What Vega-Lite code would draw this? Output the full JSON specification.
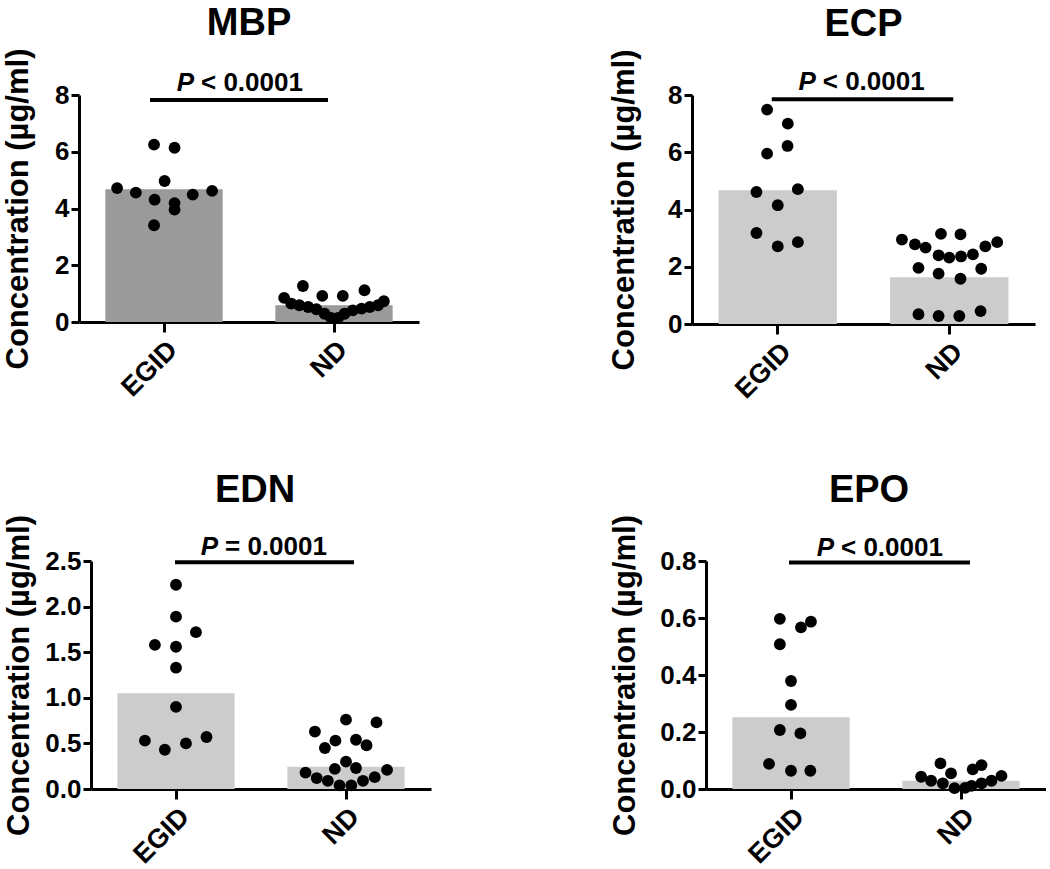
{
  "$schema": "https://vega.github.io/schema/vega-lite/v6.json",
  "padding": {"left": 2, "top": 5, "right": 0, "bottom": 0},
  "datasets": {
    "bars": [
      {"marker": "MBP", "group": "EGID", "value": 4.68},
      {"marker": "MBP", "group": "ND", "value": 0.59},
      {"marker": "ECP", "group": "EGID", "value": 4.67},
      {"marker": "ECP", "group": "ND", "value": 1.63},
      {"marker": "EDN", "group": "EGID", "value": 1.05},
      {"marker": "EDN", "group": "ND", "value": 0.245},
      {"marker": "EPO", "group": "EGID", "value": 0.252},
      {"marker": "EPO", "group": "ND", "value": 0.029}
    ],
    "pts": [
      {"marker": "MBP", "group": "EGID", "value": 6.25, "offset": -0.17},
      {"marker": "MBP", "group": "EGID", "value": 6.14, "offset": 0.18},
      {"marker": "MBP", "group": "EGID", "value": 4.97, "offset": 0.01},
      {"marker": "MBP", "group": "EGID", "value": 4.72, "offset": -0.8},
      {"marker": "MBP", "group": "EGID", "value": 4.56, "offset": -0.48},
      {"marker": "MBP", "group": "EGID", "value": 4.31, "offset": -0.16},
      {"marker": "MBP", "group": "EGID", "value": 4.19, "offset": 0.18},
      {"marker": "MBP", "group": "EGID", "value": 3.96, "offset": 0.18},
      {"marker": "MBP", "group": "EGID", "value": 4.49, "offset": 0.49},
      {"marker": "MBP", "group": "EGID", "value": 4.62, "offset": 0.82},
      {"marker": "MBP", "group": "EGID", "value": 3.41, "offset": -0.17},
      {"marker": "MBP", "group": "ND", "value": 1.27, "offset": -0.53},
      {"marker": "MBP", "group": "ND", "value": 0.92, "offset": -0.2},
      {"marker": "MBP", "group": "ND", "value": 0.92, "offset": 0.15},
      {"marker": "MBP", "group": "ND", "value": 1.12, "offset": 0.52},
      {"marker": "MBP", "group": "ND", "value": 0.85, "offset": -0.85},
      {"marker": "MBP", "group": "ND", "value": 0.73, "offset": 0.85},
      {"marker": "MBP", "group": "ND", "value": 0.65, "offset": -0.73},
      {"marker": "MBP", "group": "ND", "value": 0.59, "offset": -0.59},
      {"marker": "MBP", "group": "ND", "value": 0.53, "offset": -0.44},
      {"marker": "MBP", "group": "ND", "value": 0.45, "offset": -0.3},
      {"marker": "MBP", "group": "ND", "value": 0.29, "offset": -0.16},
      {"marker": "MBP", "group": "ND", "value": 0.14, "offset": -0.05},
      {"marker": "MBP", "group": "ND", "value": 0.59, "offset": 0.75},
      {"marker": "MBP", "group": "ND", "value": 0.53, "offset": 0.61},
      {"marker": "MBP", "group": "ND", "value": 0.47, "offset": 0.47},
      {"marker": "MBP", "group": "ND", "value": 0.41, "offset": 0.32},
      {"marker": "MBP", "group": "ND", "value": 0.29, "offset": 0.18},
      {"marker": "MBP", "group": "ND", "value": 0.14, "offset": 0.07},
      {"marker": "ECP", "group": "EGID", "value": 7.49, "offset": -0.18},
      {"marker": "ECP", "group": "EGID", "value": 7.0, "offset": 0.17},
      {"marker": "ECP", "group": "EGID", "value": 6.22, "offset": 0.165},
      {"marker": "ECP", "group": "EGID", "value": 5.95, "offset": -0.18},
      {"marker": "ECP", "group": "EGID", "value": 4.61, "offset": -0.36},
      {"marker": "ECP", "group": "EGID", "value": 4.71, "offset": 0.34},
      {"marker": "ECP", "group": "EGID", "value": 4.15, "offset": 0.0},
      {"marker": "ECP", "group": "EGID", "value": 3.18, "offset": -0.36},
      {"marker": "ECP", "group": "EGID", "value": 2.71, "offset": 0.0},
      {"marker": "ECP", "group": "EGID", "value": 2.86, "offset": 0.34},
      {"marker": "ECP", "group": "ND", "value": 3.15, "offset": -0.14},
      {"marker": "ECP", "group": "ND", "value": 3.13, "offset": 0.19},
      {"marker": "ECP", "group": "ND", "value": 2.95, "offset": -0.8},
      {"marker": "ECP", "group": "ND", "value": 2.78, "offset": -0.58},
      {"marker": "ECP", "group": "ND", "value": 2.67, "offset": -0.4},
      {"marker": "ECP", "group": "ND", "value": 2.71, "offset": 0.61},
      {"marker": "ECP", "group": "ND", "value": 2.86, "offset": 0.81},
      {"marker": "ECP", "group": "ND", "value": 2.4, "offset": -0.18},
      {"marker": "ECP", "group": "ND", "value": 2.32, "offset": 0.0},
      {"marker": "ECP", "group": "ND", "value": 2.36, "offset": 0.2},
      {"marker": "ECP", "group": "ND", "value": 2.43, "offset": 0.4},
      {"marker": "ECP", "group": "ND", "value": 1.96, "offset": -0.52},
      {"marker": "ECP", "group": "ND", "value": 1.93, "offset": 0.54},
      {"marker": "ECP", "group": "ND", "value": 1.76, "offset": -0.18},
      {"marker": "ECP", "group": "ND", "value": 1.58, "offset": 0.19},
      {"marker": "ECP", "group": "ND", "value": 0.34, "offset": -0.52},
      {"marker": "ECP", "group": "ND", "value": 0.28, "offset": -0.18},
      {"marker": "ECP", "group": "ND", "value": 0.28, "offset": 0.17},
      {"marker": "ECP", "group": "ND", "value": 0.45, "offset": 0.53},
      {"marker": "EDN", "group": "EGID", "value": 2.24, "offset": 0.0},
      {"marker": "EDN", "group": "EGID", "value": 1.89, "offset": 0.0},
      {"marker": "EDN", "group": "EGID", "value": 1.72, "offset": 0.34},
      {"marker": "EDN", "group": "EGID", "value": 1.58, "offset": -0.36},
      {"marker": "EDN", "group": "EGID", "value": 1.56, "offset": 0.0},
      {"marker": "EDN", "group": "EGID", "value": 1.33, "offset": 0.0},
      {"marker": "EDN", "group": "EGID", "value": 0.9, "offset": 0.0},
      {"marker": "EDN", "group": "EGID", "value": 0.53, "offset": -0.53},
      {"marker": "EDN", "group": "EGID", "value": 0.43, "offset": -0.19},
      {"marker": "EDN", "group": "EGID", "value": 0.5, "offset": 0.17},
      {"marker": "EDN", "group": "EGID", "value": 0.57, "offset": 0.52},
      {"marker": "EDN", "group": "ND", "value": 0.76, "offset": 0.0},
      {"marker": "EDN", "group": "ND", "value": 0.73, "offset": 0.52},
      {"marker": "EDN", "group": "ND", "value": 0.63, "offset": -0.53},
      {"marker": "EDN", "group": "ND", "value": 0.53, "offset": -0.18},
      {"marker": "EDN", "group": "ND", "value": 0.54, "offset": 0.17},
      {"marker": "EDN", "group": "ND", "value": 0.45, "offset": -0.36},
      {"marker": "EDN", "group": "ND", "value": 0.48, "offset": 0.35},
      {"marker": "EDN", "group": "ND", "value": 0.3, "offset": 0.0},
      {"marker": "EDN", "group": "ND", "value": 0.22, "offset": -0.19},
      {"marker": "EDN", "group": "ND", "value": 0.23, "offset": 0.17},
      {"marker": "EDN", "group": "ND", "value": 0.21, "offset": 0.7},
      {"marker": "EDN", "group": "ND", "value": 0.18, "offset": -0.69},
      {"marker": "EDN", "group": "ND", "value": 0.12, "offset": -0.5},
      {"marker": "EDN", "group": "ND", "value": 0.09, "offset": -0.31},
      {"marker": "EDN", "group": "ND", "value": 0.13, "offset": 0.49},
      {"marker": "EDN", "group": "ND", "value": 0.09, "offset": 0.29},
      {"marker": "EDN", "group": "ND", "value": 0.04, "offset": -0.11},
      {"marker": "EDN", "group": "ND", "value": 0.04, "offset": 0.09},
      {"marker": "EPO", "group": "EGID", "value": 0.597, "offset": -0.19},
      {"marker": "EPO", "group": "EGID", "value": 0.587, "offset": 0.34},
      {"marker": "EPO", "group": "EGID", "value": 0.567, "offset": 0.17},
      {"marker": "EPO", "group": "EGID", "value": 0.508, "offset": -0.19},
      {"marker": "EPO", "group": "EGID", "value": 0.379, "offset": 0.0},
      {"marker": "EPO", "group": "EGID", "value": 0.295, "offset": 0.0},
      {"marker": "EPO", "group": "EGID", "value": 0.207, "offset": -0.19},
      {"marker": "EPO", "group": "EGID", "value": 0.195, "offset": 0.16},
      {"marker": "EPO", "group": "EGID", "value": 0.088, "offset": -0.375},
      {"marker": "EPO", "group": "EGID", "value": 0.064, "offset": 0.0},
      {"marker": "EPO", "group": "EGID", "value": 0.064, "offset": 0.33},
      {"marker": "EPO", "group": "ND", "value": 0.09, "offset": -0.35},
      {"marker": "EPO", "group": "ND", "value": 0.084, "offset": 0.35},
      {"marker": "EPO", "group": "ND", "value": 0.069, "offset": 0.2},
      {"marker": "EPO", "group": "ND", "value": 0.055, "offset": -0.17},
      {"marker": "EPO", "group": "ND", "value": 0.043, "offset": -0.68},
      {"marker": "EPO", "group": "ND", "value": 0.046, "offset": 0.69},
      {"marker": "EPO", "group": "ND", "value": 0.029, "offset": -0.51},
      {"marker": "EPO", "group": "ND", "value": 0.029, "offset": 0.52},
      {"marker": "EPO", "group": "ND", "value": 0.02, "offset": -0.31},
      {"marker": "EPO", "group": "ND", "value": 0.02, "offset": 0.35},
      {"marker": "EPO", "group": "ND", "value": 0.011, "offset": 0.18},
      {"marker": "EPO", "group": "ND", "value": 0.003, "offset": -0.11},
      {"marker": "EPO", "group": "ND", "value": 0.004, "offset": 0.07}
    ]
  },
  "columns": 2,
  "align": "each",
  "spacing": {"row": 67, "column": 177},
  "concat": [
    {
      "width": 340, "height": 227,
      "title": {"text": "MBP"},
      "resolve": {"scale": {"xOffset": "independent"}},
      "layer": [
        {"data": {"name": "bars"}, "transform": [{"filter": "datum.marker === 'MBP'"}],
         "mark": {"type": "bar", "color": "#9a9a9a"},
         "encoding": {
           "x": {"field": "group", "type": "nominal", "scale": {"domain": ["EGID", "ND"], "paddingInner": 0.31, "paddingOuter": 0.155}, "axis": {"title": null}},
           "y": {"field": "value", "type": "quantitative", "scale": {"domain": [0, 8], "nice": false}, "axis": {"title": "Concentration (µg/ml)", "values": [0, 2, 4, 6, 8], "format": "d", "titlePadding": 20}}
         }},
        {"data": {"name": "pts"}, "transform": [{"filter": "datum.marker === 'MBP'"}],
         "mark": {"type": "circle", "size": 140, "color": "black", "opacity": 1},
         "encoding": {
           "x": {"field": "group", "type": "nominal"},
           "xOffset": {"field": "offset", "type": "quantitative", "scale": {"domain": [-1, 1]}},
           "y": {"field": "value", "type": "quantitative"}
         }},
        {"data": {"values": [{}]}, "mark": {"type": "rule", "strokeWidth": 4, "color": "black", "xOffset": -14, "x2Offset": -6},
         "encoding": {"x": {"datum": "EGID"}, "x2": {"datum": "ND"}, "y": {"datum": 7.82}}},
        {"data": {"values": [{}]}, "mark": {"type": "text", "text": "P", "fontStyle": "italic", "fontWeight": "bold", "fontSize": 26, "align": "right", "baseline": "alphabetic", "dx": 30},
         "encoding": {"x": {"datum": "EGID"}, "y": {"datum": 8.13}}},
        {"data": {"values": [{}]}, "mark": {"type": "text", "text": "< 0.0001", "fontWeight": "bold", "fontSize": 26, "align": "left", "baseline": "alphabetic", "dx": 37},
         "encoding": {"x": {"datum": "EGID"}, "y": {"datum": 8.13}}}
      ]
    },
    {
      "width": 343, "height": 229,
      "title": {"text": "ECP"},
      "resolve": {"scale": {"xOffset": "independent"}},
      "layer": [
        {"data": {"name": "bars"}, "transform": [{"filter": "datum.marker === 'ECP'"}],
         "mark": {"type": "bar", "color": "#cccccc"},
         "encoding": {
           "x": {"field": "group", "type": "nominal", "scale": {"domain": ["EGID", "ND"], "paddingInner": 0.31, "paddingOuter": 0.155}, "axis": {"title": null}},
           "y": {"field": "value", "type": "quantitative", "scale": {"domain": [0, 8], "nice": false}, "axis": {"title": "Concentration (µg/ml)", "values": [0, 2, 4, 6, 8], "format": "d", "titlePadding": 27}}
         }},
        {"data": {"name": "pts"}, "transform": [{"filter": "datum.marker === 'ECP'"}],
         "mark": {"type": "circle", "size": 140, "color": "black", "opacity": 1},
         "encoding": {
           "x": {"field": "group", "type": "nominal"},
           "xOffset": {"field": "offset", "type": "quantitative", "scale": {"domain": [-1, 1]}},
           "y": {"field": "value", "type": "quantitative"}
         }},
        {"data": {"values": [{}]}, "mark": {"type": "rule", "strokeWidth": 4, "color": "black", "xOffset": -6, "x2Offset": 4},
         "encoding": {"x": {"datum": "EGID"}, "x2": {"datum": "ND"}, "y": {"datum": 7.85}}},
        {"data": {"values": [{}]}, "mark": {"type": "text", "text": "P", "fontStyle": "italic", "fontWeight": "bold", "fontSize": 26, "align": "right", "baseline": "alphabetic", "dx": 38},
         "encoding": {"x": {"datum": "EGID"}, "y": {"datum": 8.16}}},
        {"data": {"values": [{}]}, "mark": {"type": "text", "text": "< 0.0001", "fontWeight": "bold", "fontSize": 26, "align": "left", "baseline": "alphabetic", "dx": 45},
         "encoding": {"x": {"datum": "EGID"}, "y": {"datum": 8.16}}}
      ]
    },
    {
      "width": 352, "height": 228,
      "title": {"text": "EDN"},
      "resolve": {"scale": {"xOffset": "independent"}},
      "layer": [
        {"data": {"name": "bars"}, "transform": [{"filter": "datum.marker === 'EDN'"}],
         "mark": {"type": "bar", "color": "#cccccc"},
         "encoding": {
           "x": {"field": "group", "type": "nominal", "scale": {"domain": ["EGID", "ND"], "paddingInner": 0.31, "paddingOuter": 0.155, "rangeMin": 12}, "axis": {"title": null}},
           "y": {"field": "value", "type": "quantitative", "scale": {"domain": [0, 2.5], "nice": false}, "axis": {"title": "Concentration (µg/ml)", "values": [0, 0.5, 1, 1.5, 2, 2.5], "format": ".1f", "titlePadding": 9, "offset": -12}}
         }},
        {"data": {"name": "pts"}, "transform": [{"filter": "datum.marker === 'EDN'"}],
         "mark": {"type": "circle", "size": 140, "color": "black", "opacity": 1},
         "encoding": {
           "x": {"field": "group", "type": "nominal"},
           "xOffset": {"field": "offset", "type": "quantitative", "scale": {"domain": [-1, 1]}},
           "y": {"field": "value", "type": "quantitative"}
         }},
        {"data": {"values": [{}]}, "mark": {"type": "rule", "strokeWidth": 4, "color": "black", "xOffset": -1, "x2Offset": 8},
         "encoding": {"x": {"datum": "EGID"}, "x2": {"datum": "ND"}, "y": {"datum": 2.486}}},
        {"data": {"values": [{}]}, "mark": {"type": "text", "text": "P", "fontStyle": "italic", "fontWeight": "bold", "fontSize": 26, "align": "right", "baseline": "alphabetic", "dx": 42},
         "encoding": {"x": {"datum": "EGID"}, "y": {"datum": 2.57}}},
        {"data": {"values": [{}]}, "mark": {"type": "text", "text": "= 0.0001", "fontWeight": "bold", "fontSize": 26, "align": "left", "baseline": "alphabetic", "dx": 49},
         "encoding": {"x": {"datum": "EGID"}, "y": {"datum": 2.57}}}
      ]
    },
    {
      "width": 354, "height": 228,
      "title": {"text": "EPO"},
      "resolve": {"scale": {"xOffset": "independent"}},
      "layer": [
        {"data": {"name": "bars"}, "transform": [{"filter": "datum.marker === 'EPO'"}],
         "mark": {"type": "bar", "color": "#cccccc"},
         "encoding": {
           "x": {"field": "group", "type": "nominal", "scale": {"domain": ["EGID", "ND"], "paddingInner": 0.31, "paddingOuter": 0.155, "rangeMin": 14}, "axis": {"title": null}},
           "y": {"field": "value", "type": "quantitative", "scale": {"domain": [0, 0.8], "nice": false}, "axis": {"title": "Concentration (µg/ml)", "values": [0, 0.2, 0.4, 0.6, 0.8], "format": ".1f", "titlePadding": 18, "offset": -14}}
         }},
        {"data": {"name": "pts"}, "transform": [{"filter": "datum.marker === 'EPO'"}],
         "mark": {"type": "circle", "size": 140, "color": "black", "opacity": 1},
         "encoding": {
           "x": {"field": "group", "type": "nominal"},
           "xOffset": {"field": "offset", "type": "quantitative", "scale": {"domain": [-1, 1]}},
           "y": {"field": "value", "type": "quantitative"}
         }},
        {"data": {"values": [{}]}, "mark": {"type": "rule", "strokeWidth": 4, "color": "black", "xOffset": -2, "x2Offset": 9},
         "encoding": {"x": {"datum": "EGID"}, "x2": {"datum": "ND"}, "y": {"datum": 0.795}}},
        {"data": {"values": [{}]}, "mark": {"type": "text", "text": "P", "fontStyle": "italic", "fontWeight": "bold", "fontSize": 26, "align": "right", "baseline": "alphabetic", "dx": 43},
         "encoding": {"x": {"datum": "EGID"}, "y": {"datum": 0.819}}},
        {"data": {"values": [{}]}, "mark": {"type": "text", "text": "< 0.0001", "fontWeight": "bold", "fontSize": 26, "align": "left", "baseline": "alphabetic", "dx": 50},
         "encoding": {"x": {"datum": "EGID"}, "y": {"datum": 0.819}}}
      ]
    }
  ],
  "config": {
    "font": "Liberation Sans",
    "view": {"stroke": null},
    "text": {"font": "Liberation Sans", "color": "black"},
    "title": {"fontSize": 38, "fontWeight": "bold", "anchor": "middle", "color": "black", "font": "Liberation Sans", "offset": 5},
    "axis": {"domainColor": "black", "domainWidth": 3, "tickColor": "black", "tickWidth": 3, "labelColor": "black", "labelFontWeight": "bold", "labelFont": "Liberation Sans", "titleColor": "black", "titleFontWeight": "bold", "titleFont": "Liberation Sans", "grid": false},
    "axisY": {"tickSize": 8, "labelFontSize": 26, "titleFontSize": 31, "labelPadding": 2},
    "axisX": {"tickSize": 10, "labelFontSize": 27, "labelAngle": -45, "labelPadding": 4}
  }
}
